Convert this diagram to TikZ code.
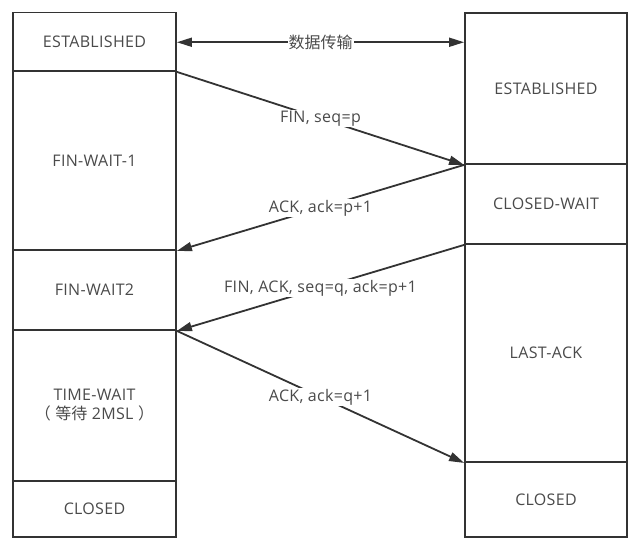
\documentclass[tikz,border=0pt]{standalone}
\usepackage{fontspec}
\setmainfont{Open Sans}[LetterSpace=2]
\newfontfamily\cjk{Noto Sans CJK SC}
\usetikzlibrary{arrows.meta,calc}
\definecolor{ln}{HTML}{333333}
\definecolor{tx}{HTML}{4a4a4a}
\tikzset{
  box/.style={draw=ln, line width=1.8pt, fill=white, text=tx, inner sep=0pt, font=\fontsize{16}{19}\selectfont, align=center},
  lbox/.style={box, minimum width=163pt},
  rbox/.style={box, minimum width=162pt},
  msg/.style={draw=ln, line width=1.8pt, -{Triangle[length=15pt,width=9pt]}},
  dmsg/.style={draw=ln, line width=1.8pt, {Triangle[length=15pt,width=9pt]}-{Triangle[length=15pt,width=9pt]}},
  lab/.style={fill=white, text=tx, inner sep=1pt, font=\fontsize{16}{19}\selectfont}
}
\begin{document}
\begin{tikzpicture}[x=1pt,y=-1pt]
\useasboundingbox (0,0) rectangle (641,550);
% left column
\node[lbox, minimum height=58.5pt] (l1) at (94.5,41.75) {ESTABLISHED};
\node[lbox, minimum height=179pt] (l2) at (94.5,160.5) {FIN-WAIT-1};
\node[lbox, minimum height=80pt] (l3) at (94.5,290) {FIN-WAIT2};
\node[lbox, minimum height=151pt] (l4) at (94.5,405.5) {TIME-WAIT\\{\cjk （} {\cjk 等待} 2MSL {\cjk ）}};
\node[lbox, minimum height=56pt] (l5) at (94.5,509) {CLOSED};
% right column
\node[rbox, minimum height=151pt] (r1) at (546,88.5) {ESTABLISHED};
\node[rbox, minimum height=80pt] (r2) at (546,204) {CLOSED-WAIT};
\node[rbox, minimum height=218pt] (r3) at (546,353) {LAST-ACK};
\node[rbox, minimum height=75pt] (r4) at (546,499.5) {CLOSED};
% messages
\coordinate (a1) at ($(l1.east)+(0,0.5)$);
\coordinate (a2) at (a1 -| r1.west);
\draw[dmsg] (a1) -- node[lab, font=\cjk\fontsize{16}{19}\selectfont] {数据传输} (a2);
\draw[msg] (l1.south east) -- node[lab] {FIN, seq=p} (r1.south west);
\draw[msg] (r1.south west) -- node[lab] {ACK, ack=p+1} (l2.south east);
\draw[msg] (r2.south west) -- node[lab] {FIN, ACK, seq=q, ack=p+1} (l3.south east);
\draw[msg] (l3.south east) -- node[lab] {ACK, ack=q+1} (r3.south west);
\end{tikzpicture}
\end{document}
